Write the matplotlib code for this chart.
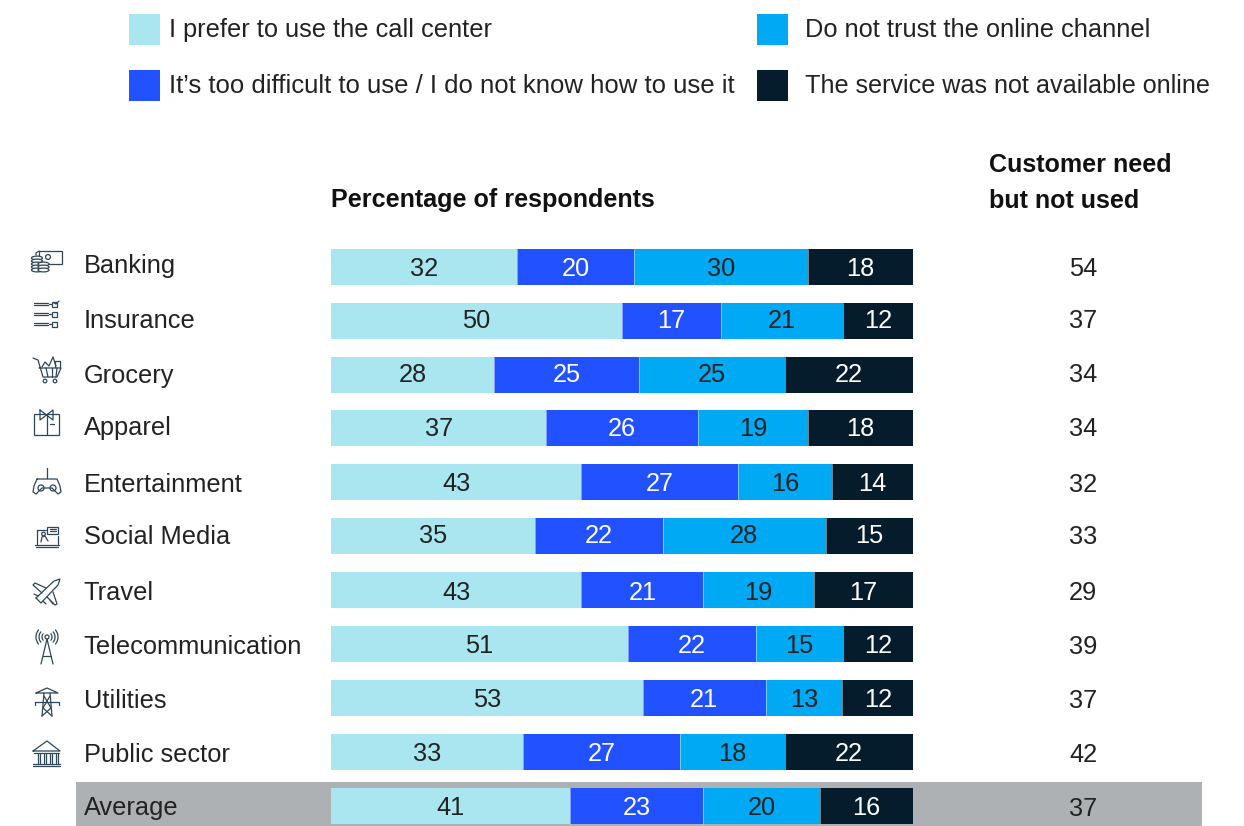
"""Stacked bars: reasons customers did not use a digital channel, by sector"""
import numpy as np
import matplotlib
matplotlib.use('Agg')
import matplotlib.pyplot as plt
from matplotlib.patches import Rectangle, Circle, Ellipse

plt.rcParams['font.family'] = ['Liberation Sans', 'DejaVu Sans']

categories = ['Banking', 'Insurance', 'Grocery', 'Apparel', 'Entertainment', 'Social Media',
              'Travel', 'Telecommunication', 'Utilities', 'Public sector', 'Average']
call_center = [32, 50, 28, 37, 43, 35, 43, 51, 53, 33, 41]
too_difficult = [20, 17, 25, 26, 27, 22, 21, 22, 21, 27, 23]
no_trust = [30, 21, 25, 19, 16, 28, 19, 15, 13, 18, 20]
not_available = [18, 12, 22, 18, 14, 15, 17, 12, 12, 22, 16]
need_not_used = [54, 37, 34, 34, 32, 33, 29, 39, 37, 42, 37]

series_names = ['I prefer to use the call center',
                'It\u2019s too difficult to use / I do not know how to use it',
                'Do not trust the online channel',
                'The service was not available online']
series = [call_center, too_difficult, no_trust, not_available]
colors = ['#AAE6F0', '#2251FF', '#00A9F4', '#051C2C']
label_colors = ['#222222', '#FFFFFF', '#222222', '#FFFFFF']

TEXT = '#222222'
ICON = '#2F4657'
FS = 18.3
W, H = 1244, 826

# row centres of the bars and of the text, in pixels
bar_y = [267, 321, 375, 428, 482, 536, 590, 644, 698, 752, 806]
text_y = [269.5, 321.5, 375.5, 429.5, 484.5, 536.5, 593.5, 646.5, 700.5, 754.5, 808.5]
cat_y = [265.5, 321.5, 375.5, 428.5, 484.5, 536.5, 593.5, 646.5, 700.5, 754.5, 808.5]

fig = plt.figure(figsize=(W / 100, H / 100), dpi=100, facecolor='white')

# overlay in pixel coordinates for text, legend and icons
px = fig.add_axes([0, 0, 1, 1])
px.set_xlim(0, W)
px.set_ylim(H, 0)
px.axis('off')

# bars on their own axes, 0-100 across x = 331..913 px
bar_top, bar_bottom = 240, 826
ax = fig.add_axes([331 / W, 1 - bar_bottom / H, 582 / W, (bar_bottom - bar_top) / H])
ax.set_xlim(0, 100)
ax.set_ylim(bar_bottom, bar_top)
ax.axis('off')
ax.patch.set_alpha(0)

px.add_patch(Rectangle((76, 782), 1126, 44, color='#AEB1B3', lw=0))

totals = np.sum(series, axis=0)
left = np.zeros(len(categories))
for i, (vals, col, lab_col) in enumerate(zip(series, colors, label_colors)):
    widths = np.array(vals) / totals * 100
    ax.barh(bar_y, widths, left=left, height=36, color=col, linewidth=0)
    for x0, w, v, ty, by in zip(left, widths, vals, text_y, bar_y):
        ax.text(x0 + w / 2, ty, str(v), ha='center', va='center', color=lab_col, fontsize=FS)
        # hairline between the segments
        if i > 0:
            ax.plot([x0, x0], [by - 18, by + 18], color='white', lw=0.4, alpha=0.8)
    left += widths

for name, y in zip(categories, cat_y):
    px.text(83.5, y, name, ha='left', va='center', color=TEXT, fontsize=FS)
for v, y in zip(need_not_used, text_y):
    px.text(1083, y, str(v), ha='center', va='center', color=TEXT, fontsize=FS)

# legend
legend_pos = [(129, 29, 169), (129, 85, 169), (757, 29, 805), (757, 85, 805)]
legend_fs = [18.25, 18.5, 18.3, 18.08]
for name, col, (bx, by, tx), fs in zip(series_names, colors, legend_pos, legend_fs):
    px.add_patch(Rectangle((bx, by - 15.5), 31, 31, color=col, lw=0))
    px.text(tx, by + 1, name, ha='left', va='center', color=TEXT, fontsize=fs)

px.text(331, 200.5, 'Percentage of respondents', ha='left', va='center', fontsize=18.1,
        fontweight='bold', color='#111111')
px.text(989, 165, 'Customer need', ha='left', va='center', fontsize=18.1, fontweight='bold', color='#111111')
px.text(989, 201, 'but not used', ha='left', va='center', fontsize=18.1, fontweight='bold', color='#111111')


def stroke(*paths, lw=0.9):
    for p in paths:
        xs, ys = zip(*p)
        px.plot(xs, ys, color=ICON, lw=lw, solid_capstyle='round', solid_joinstyle='round')


def box(x, y, w, h, lw=0.9):
    px.add_patch(Rectangle((x, y), w, h, fill=False, ec=ICON, lw=lw))


def ring(x, y, r, lw=0.9):
    px.add_patch(Circle((x, y), r, fill=False, ec=ICON, lw=lw))


# banking: note and coins
box(39, 251, 23, 13)
stroke([(36, 255), (36, 253), (39, 251)])
ring(48, 257, 2.4)
for y in range(258, 273, 3):
    px.add_patch(Ellipse((37, y), 11, 3.8, fill=True, fc='white', ec=ICON, lw=0.9, zorder=3))
for y in range(264, 273, 3):
    px.add_patch(Ellipse((43.5, y), 11, 3.8, fill=True, fc='white', ec=ICON, lw=0.9, zorder=3))

# insurance: checklist
for y in (303, 313, 323):
    stroke([(34, y), (48, y)], [(34, y + 2), (48, y + 2)], [(49, y + 1), (51, y + 1)])
    box(52, y - 1, 5, 5)
stroke([(54, 303), (56, 304), (59, 301)])

# grocery: cart
stroke([(33, 358), (38, 360), (43, 377), (57, 377), (61, 368), (39, 368)],
       [(42, 367), (45, 362), (49, 366), (53, 357), (56, 366)],
       [(55, 367), (55, 361), (60, 361), (60, 367)],
       [(46, 368), (48, 377)], [(52, 368), (52, 377)], [(57, 368), (56, 377)])
ring(45, 381, 1.8)
ring(55, 381, 1.8)

# apparel: folded shirt
box(34, 414, 25, 21)
stroke([(46.5, 415), (46.5, 435)], [(40, 410), (46.5, 415), (53, 410), (53, 420), (46.5, 415), (40, 420), (40, 410)],
       [(50, 424), (54, 424)])

# entertainment: game controller
stroke([(47, 468), (47, 478)],
       [(37, 479), (57, 479), (60, 486), (61, 492), (58, 494), (52, 488), (42, 488), (36, 494), (33, 492),
        (34, 486), (37, 479)])
ring(41, 488, 3)
ring(53, 488, 3)

# social media: laptop with speech bubble
stroke([(37, 544), (37, 530), (46, 530)], [(58, 536), (58, 544)], [(35, 545), (59, 545)], [(36, 547), (58, 547)])
box(47, 527, 11, 7)
stroke([(41, 542), (42, 537), (45, 536), (48, 541)], [(50, 529), (56, 529)], [(50, 531), (56, 531)])
ring(43.5, 534, 1.8)

# travel: aeroplane
stroke([(36, 598), (54, 581), (60, 579), (58, 585), (41, 603), (36, 598)],
       [(46, 588), (35, 583), (33, 585), (42, 593)], [(53, 592), (57, 604), (55, 605), (47, 597)],
       [(34, 594), (38, 596)], [(43, 601), (46, 604)], [(50, 600), (53, 604)])

# telecommunication: antenna mast
ring(47, 637, 2)
stroke([(47, 639), (41, 664)], [(47, 639), (53, 664)], [(43, 656), (51, 656)])
for sgn in (-1, 1):
    for r in (5, 8, 11):
        a = np.linspace(-0.7, 0.7, 12)
        stroke(list(zip(47 + sgn * r * np.cos(a), 637 + r * np.sin(a))))

# utilities: pylon
stroke([(44, 693), (42, 716)], [(50, 693), (52, 716)],
       [(36, 693), (58, 693), (47, 688), (36, 693)], [(35, 702), (59, 702)],
       [(44, 696), (51, 708), (42, 716)], [(50, 696), (43, 708), (52, 716)], [(35, 702), (35, 705)], [(59, 702), (59, 705)])

# public sector: columned building
stroke([(33, 751), (47, 741), (60, 751), (33, 751)], [(34, 753), (59, 753)],
       [(33, 764), (60, 764)], [(33, 766), (60, 766)])
for x in (38, 44, 50, 56):
    stroke([(x, 754), (x, 763)], [(x + 1.5, 754), (x + 1.5, 763)])

fig.savefig('out.png', dpi=100)
